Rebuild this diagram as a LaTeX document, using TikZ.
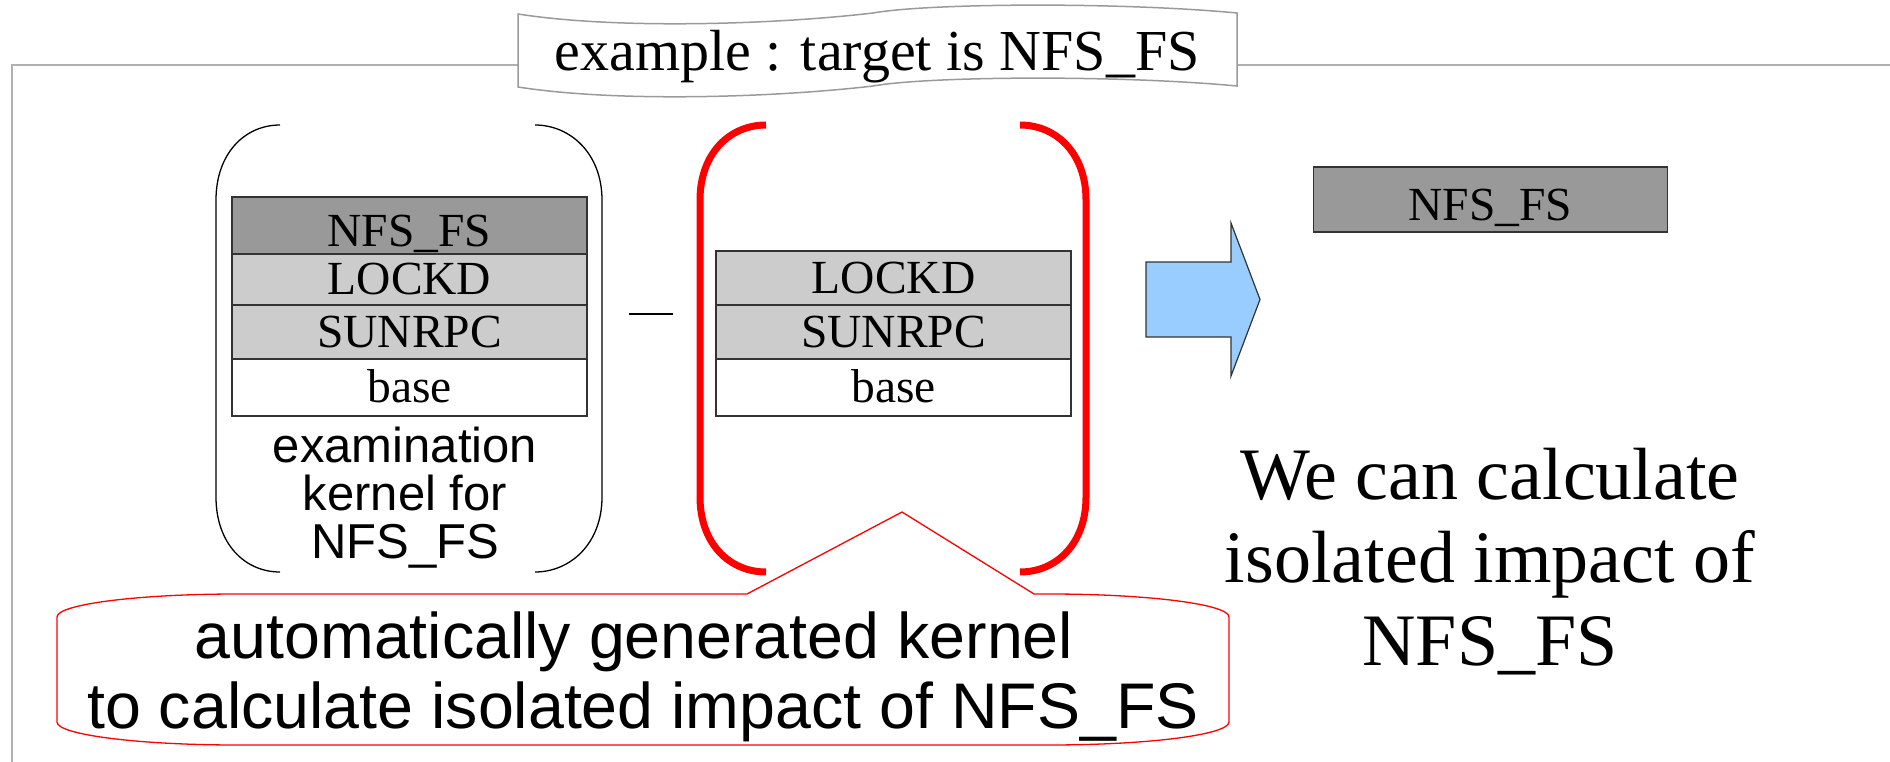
\documentclass[tikz,border=0pt]{standalone}
\usepackage{fontspec}
\setmainfont{Liberation Serif}
\setsansfont{Liberation Sans}
\definecolor{framegray}{HTML}{B0B0B0}
\definecolor{bannergray}{HTML}{9A9A9A}
\definecolor{darkfill}{HTML}{999999}
\definecolor{lightfill}{HTML}{CCCCCC}
\definecolor{arrowblue}{HTML}{99CCFF}
\definecolor{edgegray}{HTML}{333333}
\definecolor{pured}{HTML}{FF0000}
\begin{document}
\begin{tikzpicture}[x=1pt,y=-1pt,
  layer/.style={draw=edgegray, line width=1.3pt, minimum width=355pt, inner sep=0pt,
    text height=30pt, text depth=0pt, font=\fontsize{47.5}{50}\selectfont},
  toplayer/.style={layer, fill=darkfill, text height=42pt},
  midlayer/.style={layer, fill=lightfill},
  baselayer/.style={layer, fill=white},
  framestyle/.style={draw=framegray, line width=2pt},
  bannerstyle/.style={draw=bannergray, line width=1.5pt, fill=white},
  blackbracket/.style={draw=black, line width=1.3pt},
  redbracket/.style={draw=pured, line width=7pt},
  calloutstyle/.style={draw=pured, line width=1.3pt, fill=white},
  arrowstyle/.style={draw=edgegray, line width=1.2pt, fill=arrowblue},
  serifbig/.style={font=\fontsize{74}{83}\selectfont, align=center, inner sep=0pt},
  sansmid/.style={font=\sffamily\fontsize{49}{48}\selectfont, align=center, inner sep=0pt},
  sansbig/.style={font=\sffamily\fontsize{64.5}{70}\selectfont, align=center, inner sep=0pt},
]
\useasboundingbox (0,0) rectangle (1890,762);
\fill[white] (0,0) rectangle (1890,762);

% frame
\draw[framestyle] (12,762) -- (12,65) -- (1890,65);

% title banner
\draw[bannerstyle] (518,14) .. controls (620,30) and (780,24) .. (873,13)
  .. controls (930,3) and (1120,2) .. (1237,13) -- (1237,86)
  .. controls (1120,75) and (930,76) .. (873,86)
  .. controls (780,97) and (620,103) .. (518,87) -- cycle;
\node[font=\fontsize{58}{60}\selectfont, anchor=base, inner sep=0pt] (title) at (877,70.7) {example : target is NFS\_FS};

% black bracket (left)
\draw[blackbracket] (280,125) .. controls (244.7,125) and (216,153.6) .. (216,200)
  -- (216,497) .. controls (216,543.6) and (244.7,572) .. (280,572);
\draw[blackbracket] (535,125) .. controls (570.3,125) and (602,153.6) .. (602,200)
  -- (602,497) .. controls (602,543.6) and (570.3,572) .. (535,572);

% red bracket (right)
\draw[redbracket] (766,125) .. controls (729.5,125) and (700,153.6) .. (700,200)
  -- (700,497) .. controls (700,543.6) and (729.5,572) .. (766,572);
\draw[redbracket] (1020,125) .. controls (1056.5,125) and (1086,153.6) .. (1086,200)
  -- (1086,497) .. controls (1086,543.6) and (1056.5,572) .. (1020,572);

% left stack
\node[toplayer, minimum height=57pt] (lnfs) at (409.5,225.5) {NFS\_FS};
\node[midlayer, minimum height=51pt] (llock) at (409.5,279.5) {LOCKD};
\node[midlayer, minimum height=54pt] (lsun) at (409.5,332) {SUNRPC};
\node[baselayer, minimum height=57pt] (lbase) at (409.5,387.5) {base};
\node[sansmid, anchor=base] (exam) at (405,558) {examination\\kernel for\\NFS\_FS};

% minus
\coordinate (minusL) at (629,314);
\coordinate (minusR) at (673,314);
\draw[line width=2.5pt] (minusL) -- (minusR);

% right stack
\node[midlayer, minimum height=54pt] (rlock) at (893.5,278) {LOCKD};
\node[midlayer, minimum height=54pt] (rsun) at (893.5,332) {SUNRPC};
\node[baselayer, minimum height=57pt] (rbase) at (893.5,387.5) {base};

% callout
\draw[calloutstyle] (57,617) .. controls (57,604.3) and (137.6,594) .. (237,594)
  -- (747,594) -- (902,512) -- (1034,594) -- (1049,594)
  .. controls (1148.4,594) and (1229,604.3) .. (1229,617)
  -- (1229,722) .. controls (1229,734.7) and (1148.4,745) .. (1049,745)
  -- (237,745) .. controls (137.6,745) and (57,734.7) .. (57,722) -- cycle;
\node[sansbig, anchor=base] (callout) at (643,728) {automatically generated kernel\hphantom{\ }\\to calculate isolated impact of NFS\_FS};

% blue arrow
\draw[arrowstyle] (1146,262) -- (1231,262) -- (1231,223) -- (1260,299.5)
  -- (1231,376) -- (1231,337) -- (1146,337) -- cycle;

% result
\node[toplayer, minimum width=354pt, minimum height=65pt] (res) at (1490.5,199.5) {NFS\_FS};
\node[serifbig, anchor=base] (concl) at (1490,665) {We can calculate\\isolated impact of\\NFS\_FS};
\end{tikzpicture}
\end{document}
